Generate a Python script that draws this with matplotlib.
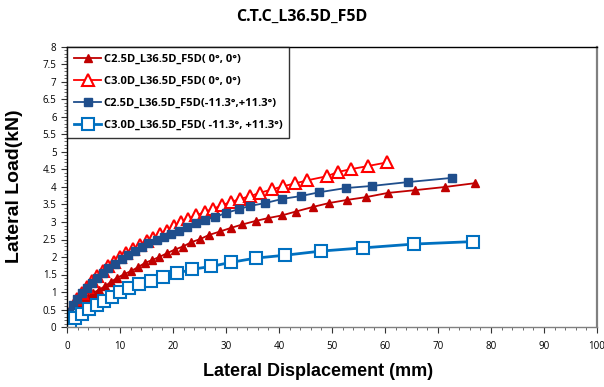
import matplotlib
matplotlib.use("Agg")
import matplotlib.pyplot as plt
from matplotlib.ticker import MultipleLocator, FormatStrFormatter

title = "C.T.C_L36.5D_F5D"
xlabel = "Lateral Displacement (mm)"
ylabel = "Lateral Load(kN)"

labels = ["C2.5D_L36.5D_F5D( 0°, 0°)",
          "C3.0D_L36.5D_F5D( 0°, 0°)",
          "C2.5D_L36.5D_F5D(-11.3°,+11.3°)",
          "C3.0D_L36.5D_F5D( -11.3°, +11.3°)"]

x1 = [0, 0.2, 0.6, 1.1, 1.9, 2.8, 4.0, 4.9, 6.0, 7.2, 8.3, 9.4, 10.8, 12.1, 13.4, 14.7, 16.0, 17.4,
      18.9, 20.3, 21.9, 23.4, 25.1, 26.8, 28.9, 30.9, 33.1, 35.6, 37.9, 40.6, 43.2, 46.4, 49.4, 52.8,
      56.4, 60.5, 65.7, 71.3, 77.0]
y1 = [0, 0.14, 0.29, 0.43, 0.57, 0.71, 0.86, 0.97, 1.06, 1.17, 1.29, 1.40, 1.51, 1.60, 1.71, 1.83,
      1.91, 2.00, 2.11, 2.21, 2.30, 2.42, 2.51, 2.63, 2.73, 2.83, 2.93, 3.03, 3.11, 3.19, 3.30, 3.43,
      3.54, 3.63, 3.71, 3.83, 3.91, 4.00, 4.11]

x2 = [0, 0.5, 1.1, 1.9, 2.8, 3.8, 4.7, 5.7, 6.8, 7.8, 8.9, 10.0, 11.2, 12.5, 13.8, 15.1, 16.3, 17.6,
      18.9, 20.1, 21.5, 22.9, 24.4, 26.0, 27.5, 29.2, 30.9, 32.7, 34.6, 36.5, 38.7, 40.7, 43.0, 45.3,
      49.1, 51.1, 53.6, 56.8, 60.3]
y2 = [0, 0.34, 0.57, 0.80, 0.97, 1.14, 1.31, 1.46, 1.60, 1.74, 1.86, 2.00, 2.11, 2.23, 2.34, 2.46,
      2.55, 2.66, 2.75, 2.88, 2.99, 3.09, 3.19, 3.29, 3.37, 3.48, 3.57, 3.66, 3.74, 3.84, 3.93, 4.02,
      4.10, 4.19, 4.31, 4.43, 4.51, 4.60, 4.70]

x3 = [0, 0.1, 0.4, 1.1, 1.9, 2.8, 3.8, 4.7, 5.7, 6.8, 7.7, 9.1, 10.4, 11.5, 12.8, 14.2, 15.3, 17.0,
      18.3, 19.7, 21.1, 22.6, 24.3, 26.0, 27.9, 30.0, 32.5, 34.5, 37.4, 40.6, 44.1, 47.6, 52.6, 57.5,
      64.3, 72.6]
y3 = [0, 0.26, 0.43, 0.63, 0.80, 0.97, 1.11, 1.26, 1.40, 1.54, 1.69, 1.80, 1.94, 2.06, 2.17, 2.29,
      2.40, 2.49, 2.57, 2.66, 2.74, 2.86, 2.97, 3.06, 3.14, 3.26, 3.37, 3.46, 3.54, 3.66, 3.74, 3.85,
      3.97, 4.03, 4.14, 4.26]

x4 = [0, 0.6, 1.5, 2.8, 4.2, 5.7, 7.0, 8.5, 10.0, 11.7, 13.6, 15.8, 18.1, 20.7, 23.6, 27.2, 31.0,
      35.7, 41.1, 48.0, 55.8, 65.5, 76.6]
y4 = [0, 0.14, 0.26, 0.37, 0.51, 0.63, 0.74, 0.86, 1.00, 1.11, 1.23, 1.31, 1.43, 1.53, 1.65, 1.73,
      1.85, 1.97, 2.05, 2.17, 2.26, 2.37, 2.44]

plt.rcParams['font.family'] = ['Open Sans', 'DejaVu Sans']

fig = plt.figure(figsize=(6.04, 3.87), dpi=100)
ax = fig.add_axes([67/604, 1-327/387, 530/604, 280/387])

ax.plot(x1, y1, color='#C00000', lw=1.3, marker='^', ms=6, mfc='#C00000', mec='#C00000', label=labels[0])
ax.plot(x2, y2, color='#FF0000', lw=1.3, marker='^', ms=9, mfc='white', mec='#FF0000', mew=1.5, label=labels[1])
ax.plot(x3, y3, color='#1F4E8C', lw=1.3, marker='s', ms=6, mfc='#1F4E8C', mec='#1F4E8C', label=labels[2])
ax.plot(x4, y4, color='#0070C0', lw=2.0, marker='s', ms=9, mfc='white', mec='#0070C0', mew=1.5, label=labels[3])

ax.set_xlim(0, 100)
ax.set_ylim(0, 8)
ax.xaxis.set_major_locator(MultipleLocator(10))
ax.xaxis.set_minor_locator(MultipleLocator(2))
ax.yaxis.set_major_locator(MultipleLocator(0.5))
ax.yaxis.set_minor_locator(MultipleLocator(0.1))
ax.yaxis.set_major_formatter(FormatStrFormatter('%g'))
ax.tick_params(axis='both', which='major', labelsize=7, length=4, width=0.8, direction='out', colors='#333333', labelcolor='black')
ax.tick_params(axis='both', which='minor', length=2, width=0.6, direction='out', colors='#555555')
ax.tick_params(axis='x', pad=6)

for s in ['left', 'top']:
    ax.spines[s].set_color('black')
for s in ['right', 'bottom']:
    ax.spines[s].set_color('#808080')
for s in ax.spines.values():
    s.set_linewidth(1.0)
ax.spines['right'].set_linewidth(1.6)

ax.set_xlabel(xlabel, fontsize=13, fontweight='bold', family=['Liberation Sans', 'DejaVu Sans'])
ax.xaxis.set_label_coords((318 - 67) / 530, -(372 - 327) / 280)
ax.xaxis.label.set_va('center')
ax.set_ylabel(ylabel, fontsize=14, fontweight='bold', family=['Liberation Sans', 'DejaVu Sans'])
ax.yaxis.set_label_coords(-(67 - 15) / 530, (327 - 186) / 280)
ax.yaxis.label.set_va('center')
fig.text(0.5, 1 - 17 / 387, title, ha='center', va='center', fontsize=11.5, fontweight='bold')

leg = ax.legend(loc='upper left', bbox_to_anchor=(0, 1), frameon=True, fancybox=False,
                edgecolor='black', borderaxespad=0, handlelength=2.5, handletextpad=0.2,
                labelspacing=1.0, borderpad=0.6, prop={'weight': 'bold', 'size': 8})
leg.get_frame().set_linewidth(1.0)

fig.savefig('out.png', dpi=100)
